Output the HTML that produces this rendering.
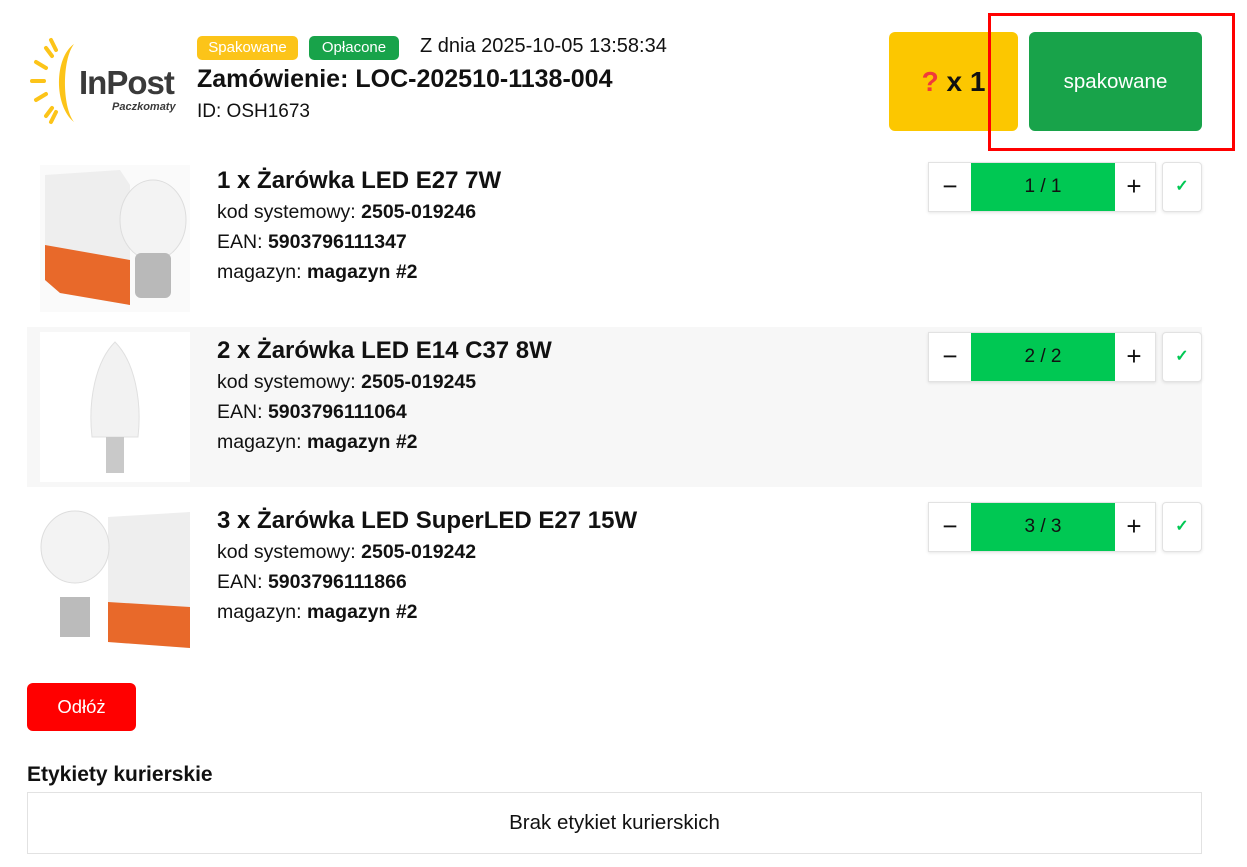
<!DOCTYPE html>
<html><head><meta charset="utf-8"><style>
*{box-sizing:border-box;margin:0;padding:0}
body{width:1247px;height:867px;background:#fff;font-family:"Liberation Sans",sans-serif;color:#111;position:relative;overflow:hidden}
.a{position:absolute}
.badge{position:absolute;top:36px;height:24px;border-radius:5px;color:#fff;font-size:15px;line-height:24px;text-align:center}
.row{position:absolute;left:27px;width:1175px;height:160px}
.t{position:absolute;left:217px;font-size:24px;font-weight:bold}
.l{position:absolute;left:217px;font-size:19.5px}
.l b{font-weight:bold}
.st{position:absolute;left:928px;height:50px;width:228px;border:1px solid #e2e2e2;box-shadow:0 1px 3px rgba(0,0,0,.1);background:#fff}
.st .g{position:absolute;left:42px;top:0;width:144px;height:48px;background:#00c853;text-align:center;line-height:48px;font-size:19px}
.st .m{position:absolute;left:0;top:0;width:42px;height:48px;text-align:center;line-height:46px;font-size:26px}
.st .p{position:absolute;right:0;top:0;width:42px;height:48px;text-align:center;line-height:46px;font-size:26px}
.ck{position:absolute;left:1162px;width:40px;height:50px;border:1px solid #e2e2e2;border-radius:4px;box-shadow:0 1px 3px rgba(0,0,0,.1);background:#fff;color:#00c853;text-align:center;line-height:48px;font-size:16px;font-weight:bold}
</style></head><body>
<svg class="a" style="left:26px;top:36px" width="155" height="92" viewBox="0 0 155 92">
<path d="M48 8 C28 22 28 70 48 86 C36 70 36 24 48 8Z" fill="#fcc419"/>
<g stroke="#fcc419" stroke-width="4" stroke-linecap="round">
<line x1="6" y1="45" x2="18" y2="45"/><line x1="10" y1="26" x2="20" y2="32"/><line x1="10" y1="64" x2="20" y2="58"/>
<line x1="25" y1="4" x2="30" y2="14"/><line x1="25" y1="86" x2="30" y2="76"/><line x1="20" y1="12" x2="26" y2="20"/><line x1="20" y1="80" x2="26" y2="72"/></g>
<text x="53" y="58" font-family="Liberation Sans" font-size="33" fill="#3a3a3a" font-weight="bold" letter-spacing="-1">InPost</text>
<text x="86" y="74" font-family="Liberation Sans" font-size="11" font-style="italic" font-weight="bold" fill="#3a3a3a">Paczkomaty</text>
</svg>
<div class="badge" style="left:197px;width:101px;background:#fcc419">Spakowane</div>
<div class="badge" style="left:309px;width:90px;background:#18a34a">Opłacone</div>
<div class="a" style="left:420px;top:35px;font-size:20px">Z dnia 2025-10-05 13:58:34</div>
<div class="a" style="left:197px;top:65px;font-size:25px;font-weight:bold">Zamówienie: LOC-202510-1138-004</div>
<div class="a" style="left:197px;top:101px;font-size:19px">ID: OSH1673</div>

<div class="a" style="left:889px;top:32px;width:129px;height:99px;background:#fcc700;border-radius:6px;text-align:center;line-height:99px;font-size:28px;font-weight:bold"><span style="color:#f03a3a">?</span> x 1</div>
<div class="a" style="left:1029px;top:32px;width:173px;height:99px;background:#18a34a;border-radius:6px;text-align:center;line-height:99px;font-size:20.5px;color:#fff">spakowane</div>
<div class="a" style="left:988px;top:13px;width:247px;height:138px;border:3px solid #f00"></div>

<div class="row" style="top:157px"></div>
<div class="row" style="top:327px;background:#f7f7f7"></div>
<div class="row" style="top:497px"></div>

<svg class="a" style="left:40px;top:165px" width="150" height="147">
<rect width="150" height="147" fill="#fafafa"/>
<polygon points="5,10 80,5 90,20 90,140 20,128 5,115" fill="#eee"/>
<polygon points="5,80 90,95 90,140 20,128 5,115" fill="#e8692a"/>
<ellipse cx="113" cy="55" rx="33" ry="40" fill="#f3f3f3" stroke="#ddd"/>
<rect x="95" y="88" width="36" height="45" rx="6" fill="#b9b9b9"/>
</svg>
<svg class="a" style="left:40px;top:332px" width="150" height="150">
<rect width="150" height="150" fill="#fff"/>
<path d="M75 10 C55 30 48 70 52 105 L98 105 C102 70 95 30 75 10Z" fill="#f2f2f2" stroke="#e0e0e0"/>
<rect x="66" y="105" width="18" height="36" fill="#c9c9c9"/>
</svg>
<svg class="a" style="left:40px;top:502px" width="150" height="146">
<rect width="150" height="146" fill="#fff"/>
<polygon points="68,15 150,10 150,146 68,140" fill="#eee"/>
<polygon points="68,100 150,105 150,146 68,140" fill="#e8692a"/>
<ellipse cx="35" cy="45" rx="34" ry="36" fill="#f3f3f3" stroke="#ddd"/>
<rect x="20" y="95" width="30" height="40" fill="#bbb"/>
</svg>

<div class="t" style="top:167px">1 x Żarówka LED E27 7W</div>
<div class="l" style="top:201px">kod systemowy: <b>2505-019246</b></div>
<div class="l" style="top:231px">EAN: <b>5903796111347</b></div>
<div class="l" style="top:261px">magazyn: <b>magazyn #2</b></div>
<div class="st" style="top:162px"><div class="m">−</div><div class="g">1 / 1</div><div class="p">+</div></div>
<div class="ck" style="top:162px">✓</div>

<div class="t" style="top:337px">2 x Żarówka LED E14 C37 8W</div>
<div class="l" style="top:371px">kod systemowy: <b>2505-019245</b></div>
<div class="l" style="top:401px">EAN: <b>5903796111064</b></div>
<div class="l" style="top:431px">magazyn: <b>magazyn #2</b></div>
<div class="st" style="top:332px"><div class="m">−</div><div class="g">2 / 2</div><div class="p">+</div></div>
<div class="ck" style="top:332px">✓</div>

<div class="t" style="top:507px">3 x Żarówka LED SuperLED E27 15W</div>
<div class="l" style="top:541px">kod systemowy: <b>2505-019242</b></div>
<div class="l" style="top:571px">EAN: <b>5903796111866</b></div>
<div class="l" style="top:601px">magazyn: <b>magazyn #2</b></div>
<div class="st" style="top:502px"><div class="m">−</div><div class="g">3 / 3</div><div class="p">+</div></div>
<div class="ck" style="top:502px">✓</div>

<div class="a" style="left:27px;top:683px;width:109px;height:48px;background:#f00;border-radius:6px;color:#fff;text-align:center;line-height:48px;font-size:18.5px">Odłóż</div>
<div class="a" style="left:27px;top:763px;font-size:21px;font-weight:bold">Etykiety kurierskie</div>
<div class="a" style="left:27px;top:792px;width:1175px;height:62px;border:1px solid #e2e2e2;text-align:center;line-height:60px;font-size:20.5px">Brak etykiet kurierskich</div>
</body></html>
